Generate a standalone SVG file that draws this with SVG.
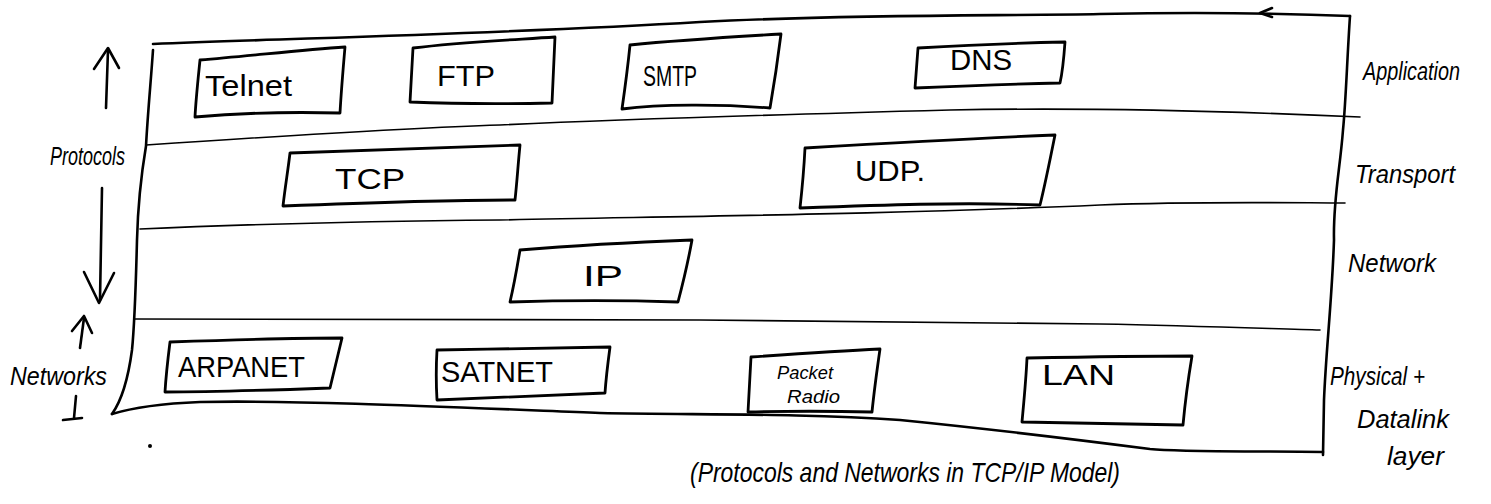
<svg xmlns="http://www.w3.org/2000/svg" width="1491" height="504" viewBox="0 0 1491 504">
  <style>
    .ink { fill: none; stroke: #000; stroke-width: 2.6; stroke-linecap: round; stroke-linejoin: round; }
    .rule { fill: none; stroke: #000; stroke-width: 1.6; stroke-linecap: round; stroke-linejoin: round; }
    .box { fill: none; stroke: #000; stroke-width: 2.8; stroke-linecap: round; stroke-linejoin: round; }
    text { font-family: "Liberation Sans", "DejaVu Sans", sans-serif; fill: #000; }
    .lbl { font-size: 30px; }
    .side { font-size: 25px; font-style: italic; }
    .small { font-size: 19px; font-style: italic; }
    .cap { font-size: 28px; font-style: italic; }
  </style>

  <rect width="1491" height="504" fill="#fff"/>

  <!-- outer stack frame -->
  <g id="frame">
    <path class="ink" d="M153,44 C300,38 500,34 700,22 C850,14 1000,16 1100,14 C1200,12 1300,14 1350,16"/>
    <path class="ink" d="M1272,8 L1260,13 L1272,17"/>
    <path class="ink" d="M1350,16 C1347,60 1346,100 1343,130 C1340,170 1333,200 1334,240 C1332,300 1326,350 1324,400 L1323,455"/>
    <path class="ink" d="M1323,452 C1250,451 1180,452 1150,449 C1080,440 1000,430 900,420 C800,413 700,415 600,413 C450,407 300,400 200,402 C150,404 125,410 112,414"/>
    <path class="ink" d="M112,414 C122,400 128,380 132,350 C135,320 136,280 137,240 C138,200 142,170 146,146 C148,110 151,80 153,50"/>
  </g>

  <!-- layer dividers -->
  <g id="layers">
    <path class="rule" d="M146,145 C250,138 400,128 500,125 C650,118 800,114 950,110 C1100,107 1250,112 1360,117"/>
    <path class="rule" d="M140,229 C250,224 400,221 500,220 C700,216 900,214 1100,205 C1200,201 1300,203 1345,203"/>
    <path class="rule" d="M135,319 C300,318 500,319 700,320 C900,321 1000,322 1100,324 C1200,326 1280,329 1320,330"/>
  </g>

  <!-- layer names -->
  <g id="layer-names">
    <text class="side" x="1363" y="80" textLength="97" lengthAdjust="spacingAndGlyphs">Application</text>
    <text class="side" x="1355" y="183" textLength="100" lengthAdjust="spacingAndGlyphs">Transport</text>
    <text class="side" x="1348" y="272" textLength="88" lengthAdjust="spacingAndGlyphs">Network</text>
    <text class="side" x="1330" y="385" textLength="95" lengthAdjust="spacingAndGlyphs">Physical +</text>
    <text class="side" x="1357" y="428" textLength="92" lengthAdjust="spacingAndGlyphs">Datalink</text>
    <text class="side" x="1387" y="465" textLength="57" lengthAdjust="spacingAndGlyphs">layer</text>
  </g>

  <!-- left-hand annotations -->
  <g id="connectors">
    <path class="ink" d="M106,108 L108,50"/>
    <path class="ink" d="M94,69 L108,48 L119,68"/>
    <path class="ink" d="M102,188 L100,300"/>
    <path class="ink" d="M84,272 L99,303 L114,273"/>
    <path class="ink" d="M80,348 L84,318"/>
    <path class="ink" d="M72,331 L84,316 L92,333"/>
    <path class="ink" d="M76,396 L74,418 M63,420 L82,418"/>
  </g>
  <g id="side-labels">
    <text class="side" x="50" y="165" textLength="75" lengthAdjust="spacingAndGlyphs">Protocols</text>
    <text class="side" x="10" y="385" textLength="97" lengthAdjust="spacingAndGlyphs">Networks</text>
  </g>
  <circle cx="150" cy="446" r="2" fill="#000"/>

  <!-- application layer -->
  <g id="telnet">
    <path class="box" d="M200,60 C250,56 300,50 345,47 C343,70 341,95 340,113 C300,112 250,112 195,117 C196,98 198,80 200,60 Z"/>
    <text class="lbl" x="205" y="96" textLength="87" lengthAdjust="spacingAndGlyphs">Telnet</text>
  </g>
  <g id="ftp">
    <path class="box" d="M413,48 C460,42 510,40 555,37 C554,60 553,82 552,103 C505,104 460,104 410,102 C411,85 412,65 413,48 Z"/>
    <text class="lbl" x="437" y="86" textLength="58" lengthAdjust="spacingAndGlyphs">FTP</text>
  </g>
  <g id="smtp">
    <path class="box" d="M630,45 C680,40 730,37 781,34 C778,58 774,85 770,108 C720,104 660,104 622,109 C625,88 628,65 630,45 Z"/>
    <text class="lbl" x="643" y="86" textLength="54" lengthAdjust="spacingAndGlyphs">SMTP</text>
  </g>
  <g id="dns">
    <path class="box" d="M918,48 C970,45 1020,43 1065,42 C1064,56 1063,70 1060,83 C1010,84 960,86 915,88 C916,75 917,62 918,48 Z"/>
    <text class="lbl" x="950" y="70" textLength="62" lengthAdjust="spacingAndGlyphs">DNS</text>
  </g>

  <!-- transport layer -->
  <g id="tcp">
    <path class="box" d="M290,153 C370,150 450,147 520,145 C518,165 517,182 515,200 C440,200 360,203 283,206 C285,188 288,170 290,153 Z"/>
    <text class="lbl" x="335" y="189" textLength="70" lengthAdjust="spacingAndGlyphs">TCP</text>
  </g>
  <g id="udp">
    <path class="box" d="M805,148 C890,143 980,138 1055,135 C1050,160 1045,185 1040,205 C960,202 880,205 800,208 C802,190 804,168 805,148 Z"/>
    <text class="lbl" x="855" y="181" textLength="70" lengthAdjust="spacingAndGlyphs">UDP.</text>
  </g>

  <!-- network layer -->
  <g id="ip">
    <path class="box" d="M520,250 C580,245 640,242 692,240 C688,262 683,283 678,302 C620,300 570,300 510,302 C514,285 517,268 520,250 Z"/>
    <text class="lbl" x="583" y="286" textLength="40" lengthAdjust="spacingAndGlyphs">IP</text>
  </g>

  <!-- physical + datalink layer -->
  <g id="arpanet">
    <path class="box" d="M170,342 C230,340 290,338 342,338 C338,355 334,372 330,388 C275,390 220,392 165,392 C166,375 168,358 170,342 Z"/>
    <text class="lbl" x="178" y="377" textLength="127" lengthAdjust="spacingAndGlyphs">ARPANET</text>
  </g>
  <g id="satnet">
    <path class="box" d="M437,350 C495,349 555,348 610,347 C608,362 606,378 605,393 C550,395 495,398 437,400 C436,383 436,367 437,350 Z"/>
    <text class="lbl" x="441" y="382" textLength="112" lengthAdjust="spacingAndGlyphs">SATNET</text>
  </g>
  <g id="packet-radio">
    <path class="box" d="M751,357 C795,354 840,351 880,349 C877,370 874,392 872,412 C830,411 790,411 748,412 C749,393 750,375 751,357 Z"/>
    <text class="small" x="777" y="379" textLength="56" lengthAdjust="spacingAndGlyphs">Packet</text>
    <text class="small" x="787" y="403" textLength="53" lengthAdjust="spacingAndGlyphs">Radio</text>
  </g>
  <g id="lan">
    <path class="box" d="M1027,358 C1080,357 1140,356 1192,356 C1188,380 1185,403 1183,425 C1130,424 1075,423 1022,422 C1024,400 1026,380 1027,358 Z"/>
    <text class="lbl" x="1042" y="385" textLength="73" lengthAdjust="spacingAndGlyphs">LAN</text>
  </g>

  <!-- caption -->
  <text class="cap" x="690" y="482" textLength="430" lengthAdjust="spacingAndGlyphs">(Protocols and Networks in TCP/IP Model)</text>
</svg>
